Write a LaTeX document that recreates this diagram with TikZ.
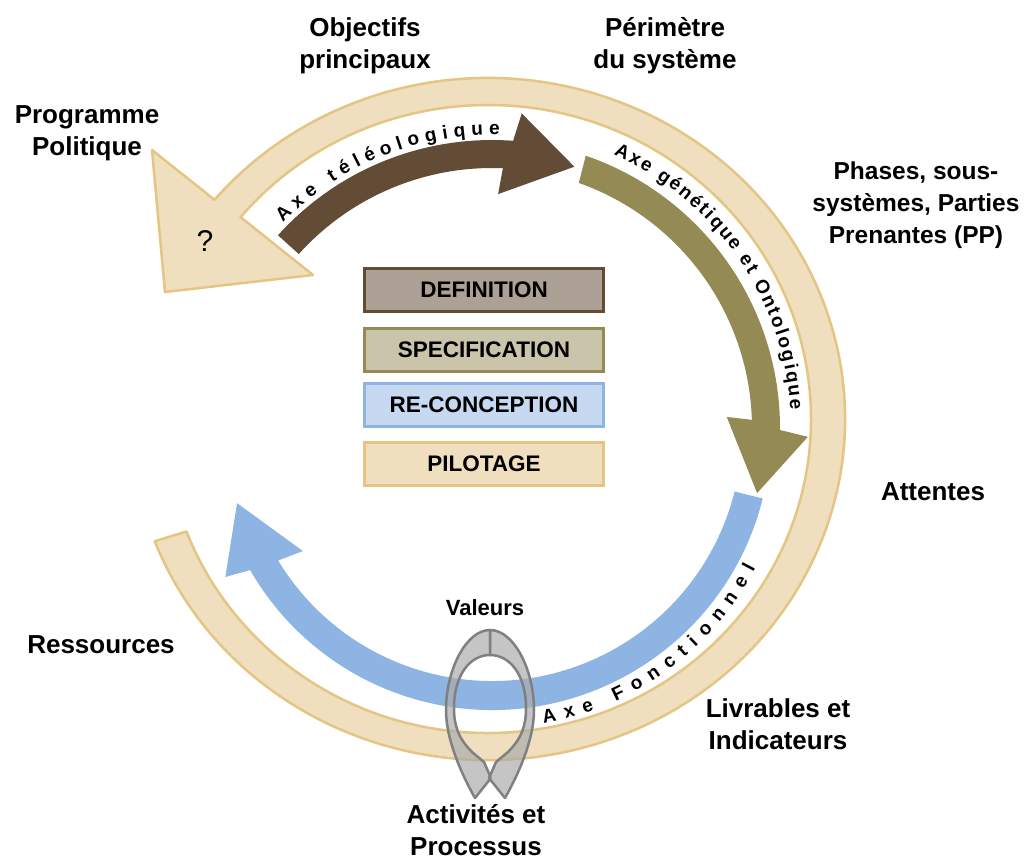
\documentclass[tikz,border=0pt]{standalone}
\usepackage{fontspec}
\setmainfont{Liberation Sans}
\usetikzlibrary{decorations.text, positioning}

\definecolor{tanfill}{RGB}{239,223,191}
\definecolor{tanline}{RGB}{228,197,131}
\definecolor{brownarr}{RGB}{98,76,53}
\definecolor{olivearr}{RGB}{148,138,84}
\definecolor{bluearr}{RGB}{141,180,226}
\definecolor{deffill}{RGB}{173,161,149}
\definecolor{specfill}{RGB}{201,196,170}
\definecolor{reconfill}{RGB}{198,217,240}
\definecolor{greyfill}{RGB}{172,172,172}
\definecolor{greyline}{RGB}{128,128,128}

\begin{document}
\begin{tikzpicture}[x=1pt, y=1pt]

\tikzset{lbl/.style = {font=\bfseries\fontsize{26}{32}\selectfont, align=center, inner sep=0pt}}
\tikzset{phase/.style = {draw, line width=3pt, minimum width=239pt, minimum height=43pt, inner sep=0pt, font=\bfseries\fontsize{22.5}{22.5}\selectfont}}
\tikzset{axetext/.style = {decorate, decoration={text along path, text align={fit to path}, text={|\bfseries\fontsize{19}{19}\selectfont|#1}}}}

\useasboundingbox (0,0) rectangle (1024,-860);

% pilotage ring
\begin{scope}[shift={(488,-419)}]
\draw[tanline, fill=tanfill, line width=2.5pt, line join=round]
  (-159:357 and 341) arc[start angle=-159, end angle=140, x radius=357, y radius=341]
  -- (-336,269) -- (-323,127) -- (-175,144)
  -- (140:323 and 314) arc[start angle=140, end angle=-159, x radius=323, y radius=314]
  -- cycle;
\end{scope}

% teleological and genetic axes
\begin{scope}[shift={(492,-428)}]
\fill[brownarr] (138:288) arc[start angle=138, end angle=85.8, radius=288]
  -- (84.6:316) -- (72.5:274) -- (88.5:234) -- (87.6:260)
  arc[start angle=87.6, end angle=138, radius=260] -- cycle;
\fill[olivearr] (71:288) arc[start angle=71, end angle=-0.4, radius=288]
  -- (-1.6:316) -- (-13.8:273) -- (2.7:235) -- (1.8:260)
  arc[start angle=1.8, end angle=70.5, radius=260] -- cycle;
\path[axetext={Axe téléologique}] (135.5:293) arc[start angle=135.5, end angle=88.5, radius=293];
\path[axetext={Axe génétique et Ontologique}] (66:299) arc[start angle=66, end angle=3.5, radius=299];
\end{scope}

% functional axis
\begin{scope}[shift={(492,-431)}]
\fill[bluearr] (-14:279) arc[start angle=-14, end angle=-150.1, radius=279]
  -- (-151.3:304) -- (-164.2:265) -- (-147.6:224) -- (-148.8:250)
  arc[start angle=-148.8, end angle=-14, radius=250] -- cycle;
\path[axetext={Axe Fonctionnel}] (-80:297) arc[start angle=-80, end angle=-27.5, radius=297];
\end{scope}

% values loop
\foreach \s in {1,-1} {
\begin{scope}[shift={(490,0)}, xscale=\s]
\draw[greyline, fill=greyfill, fill opacity=0.7, line width=2.5pt, line join=round]
  (0,-630) .. controls (-24,-630) and (-44,-670) .. (-44,-710)
  .. controls (-44,-740) and (-28,-775) .. (-15,-798)
  -- (1,-778) -- (-6,-762) -- (-18,-752)
  .. controls (-32,-738) and (-36,-725) .. (-36,-708)
  .. controls (-36,-675) and (-20,-655) .. (0,-655) -- cycle;
\end{scope}
}

% labels
\node[lbl] (objectifs) at (365,-46) {Objectifs\\principaux};
\node[lbl] (perimetre) at (665,-46) {Périmètre\\du système};
\node[lbl] (programme) at (87,-133) {Programme\\Politique};
\node[lbl, font=\bfseries\fontsize{24.5}{32}\selectfont] (phases) at (916,-205) {Phases, sous-\\systèmes, Parties\\Prenantes (PP)};
\node[lbl] (attentes) at (933,-492) {Attentes};
\node[lbl] (ressources) at (101,-645) {Ressources};
\node[lbl] (livrables) at (778,-724) {Livrables et\\Indicateurs};
\node[lbl] (activites) at (476,-830) {Activités et\\Processus};
\node[lbl, font=\bfseries\fontsize{22}{22}\selectfont] (valeurs) at (485,-608) {Valeurs};
\node[font=\fontsize{30}{30}\selectfont] (question) at (205,-241) {?};

% phases
\node[phase, fill=deffill, draw=brownarr] (definition) at (484,-290) {DEFINITION};
\node[phase, fill=specfill, draw=olivearr] (specification) at (484,-350) {SPECIFICATION};
\node[phase, fill=reconfill, draw=bluearr] (reconception) at (484,-405) {RE-CONCEPTION};
\node[phase, fill=tanfill, draw=tanline] (pilotage) at (484,-463.5) {PILOTAGE};

\end{tikzpicture}
\end{document}
